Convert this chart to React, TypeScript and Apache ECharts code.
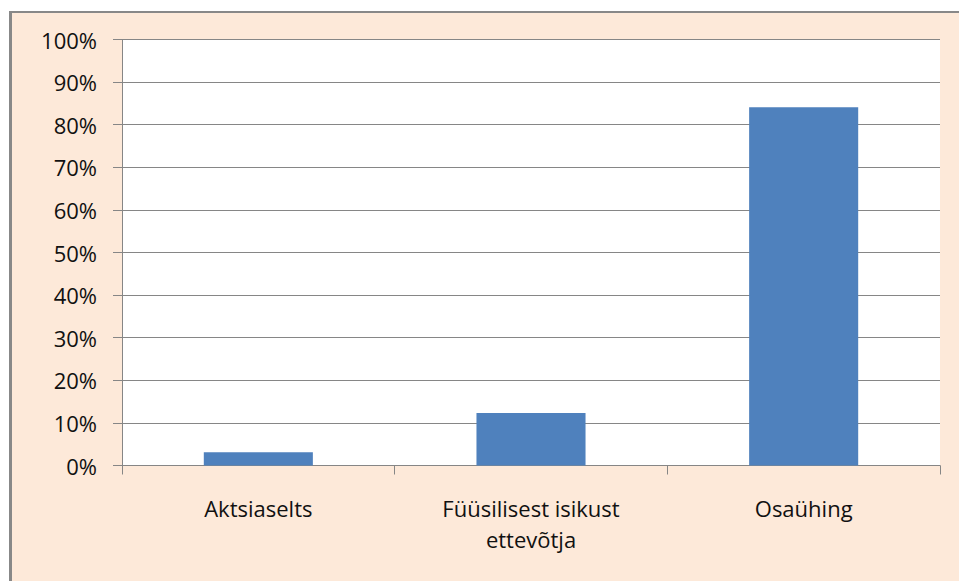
import React, { useEffect, useRef } from "react";
import * as echarts from "echarts";

const categories = ["Aktsiaselts", "Füüsilisest isikust\nettevõtja", "Osaühing"];
const shares = [3.1, 12.3, 84.1];
const yTicks = { min: 0, max: 100, interval: 10 };

export default function App() {
  const ref = useRef<HTMLDivElement>(null);
  useEffect(() => {
    if (!ref.current) return;
    const chart = echarts.init(ref.current, undefined, { renderer: "svg" });
    const font = "'Open Sans', sans-serif";
    chart.setOption({
      animation: false,
      backgroundColor: "#ffffff",
      graphic: [
        { type: "rect", z: -10, shape: { x: 12, y: 13, width: 960, height: 580 }, style: { fill: "#FDE9D9" }, silent: true },
        { type: "rect", z: -10, shape: { x: 9, y: 11, width: 3, height: 580 }, style: { fill: "#888888" }, silent: true },
        { type: "rect", z: -10, shape: { x: 9, y: 11, width: 960, height: 2 }, style: { fill: "#888888" }, silent: true },
      ],
      grid: {
        left: 122,
        right: 19,
        top: 39.5,
        bottom: 115.5,
        show: true,
        backgroundColor: "#ffffff",
        borderWidth: 0,
      },
      xAxis: {
        type: "category",
        data: categories,
        boundaryGap: true,
        axisLine: { show: true, lineStyle: { color: "#868686", width: 1 } },
        axisTick: { show: true, length: 9, interval: 0, lineStyle: { color: "#868686" } },
        axisLabel: {
          interval: 0,
          margin: 27,
          color: "#111",
          fontFamily: font,
          fontSize: 22,
          lineHeight: 31,
        },
      },
      yAxis: {
        type: "value",
        min: yTicks.min,
        max: yTicks.max,
        interval: yTicks.interval,
        axisLine: { show: true, lineStyle: { color: "#868686", width: 1 } },
        axisTick: { show: true, length: 9, lineStyle: { color: "#868686" } },
        splitLine: { show: true, lineStyle: { color: "#868686", width: 1 } },
        axisLabel: {
          formatter: "{value}%",
          margin: 25,
          color: "#111",
          fontFamily: font,
          fontSize: 22,
        },
      },
      series: [
        {
          type: "bar",
          data: shares,
          barWidth: "40%",
          itemStyle: { color: "#4F81BD" },
        },
      ],
    });
    return () => chart.dispose();
  }, []);
  return <div ref={ref} style={{ position: "fixed", left: 0, top: 0, width: 959, height: 581 }} />;
}
